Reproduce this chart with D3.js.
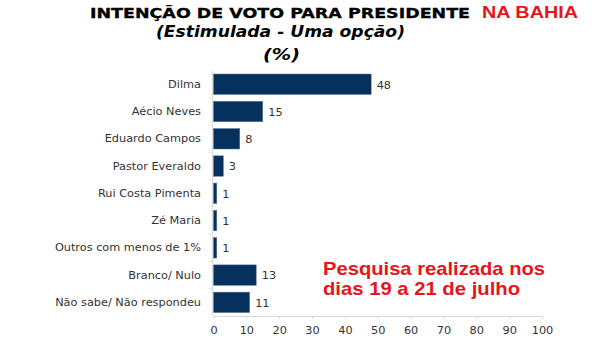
<!DOCTYPE html>
<html>
<head>
<meta charset="utf-8">
<script src="https://cdn.jsdelivr.net/npm/d3@7"></script>
<style>
  html, body { margin: 0; padding: 0; background: #fff; }
  svg { display: block; }
</style>
</head>
<body>
<svg id="chart" width="600" height="340"></svg>
<script>
// Voting intention, stimulated survey (%)
const categories = [
  "Dilma",
  "Aécio Neves",
  "Eduardo Campos",
  "Pastor Everaldo",
  "Rui Costa Pimenta",
  "Zé Maria",
  "Outros com menos de 1%",
  "Branco/ Nulo",
  "Não sabe/ Não respondeu"
];
const values = [48, 15, 8, 3, 1, 1, 1, 13, 11];
const xTicks = [0, 10, 20, 30, 40, 50, 60, 70, 80, 90, 100];

const svg = d3.select("#chart");
const plotLeft = 213.5, plotRight = 542, plotTop = 70.6, plotBottom = 316;

const x = d3.scaleLinear().domain([0, 100]).range([plotLeft, plotRight]);
const y = d3.scaleBand().domain(categories).range([plotTop, plotBottom]).paddingInner(0.25).paddingOuter(0.125);

const labelFont = "'DejaVu Sans', Verdana, sans-serif";

// Titles
svg.append("text")
  .attr("x", 90).attr("y", 17.5)
  .attr("font-family", labelFont).attr("font-weight", "bold")
  .attr("font-size", 13.5).attr("fill", "#000")
  .attr("stroke", "#000").attr("stroke-width", 0.3)
  .attr("textLength", 380).attr("lengthAdjust", "spacingAndGlyphs")
  .text("INTENÇÃO DE VOTO PARA PRESIDENTE");
svg.append("text")
  .attr("x", 482).attr("y", 18.3)
  .attr("font-family", "'Liberation Sans', Arial, sans-serif").attr("font-weight", "bold")
  .attr("font-size", 17).attr("fill", "#e8141c")
  .attr("textLength", 96).attr("lengthAdjust", "spacingAndGlyphs")
  .text("NA BAHIA");
svg.append("text")
  .attr("x", 156).attr("y", 37)
  .attr("font-family", labelFont).attr("font-weight", "bold").attr("font-style", "italic")
  .attr("font-size", 15).attr("fill", "#000")
  .attr("textLength", 249).attr("lengthAdjust", "spacingAndGlyphs")
  .text("(Estimulada - Uma opção)");
svg.append("text")
  .attr("x", 263).attr("y", 60)
  .attr("font-family", labelFont).attr("font-weight", "bold").attr("font-style", "italic")
  .attr("font-size", 15).attr("fill", "#000")
  .attr("textLength", 37).attr("lengthAdjust", "spacingAndGlyphs")
  .text("(%)");

// Axes
const xAxis = svg.append("g")
  .attr("transform", `translate(0,${plotBottom})`)
  .call(d3.axisBottom(x).tickValues(xTicks).tickSize(3).tickSizeOuter(0).tickPadding(7));
xAxis.select(".domain").attr("stroke", "#d9d9d9");
xAxis.selectAll(".tick line").attr("stroke", "#d9d9d9");
xAxis.selectAll(".tick text")
  .attr("font-family", labelFont).attr("font-size", 11.3).attr("fill", "#333");

const axisX = plotLeft - 1.5;
const yAxis = svg.append("g")
  .attr("transform", `translate(${axisX},0)`)
  .call(d3.axisLeft(y).tickSize(0).tickSizeOuter(0).tickPadding(11));
yAxis.select(".domain").attr("stroke", "#d9d9d9");
yAxis.selectAll(".tick text")
  .attr("font-family", labelFont).attr("font-size", 11.3).attr("fill", "#333");

// Short marks between category bands
const bounds = categories.slice(1).map(c => y(c) - y.step() * y.paddingInner() / 2);
svg.append("g").selectAll("line")
  .data(bounds)
  .join("line")
  .attr("x1", axisX - 3).attr("x2", axisX)
  .attr("y1", d => d).attr("y2", d => d)
  .attr("stroke", "#e3e3e3");

// Bars
svg.append("g").selectAll("rect")
  .data(values)
  .join("rect")
  .attr("x", x(0))
  .attr("y", (d, i) => y(categories[i]))
  .attr("width", d => x(d) - x(0))
  .attr("height", y.bandwidth())
  .attr("fill", "#06315e")
  .attr("stroke", "#5d7897").attr("stroke-width", 0.5);

// Value labels
svg.append("g").selectAll("text")
  .data(values)
  .join("text")
  .attr("x", d => x(d) + 5.5)
  .attr("y", (d, i) => y(categories[i]) + y.bandwidth() / 2)
  .attr("dy", "0.38em")
  .attr("font-family", labelFont).attr("font-size", 11.3).attr("fill", "#333")
  .text(d => d);

// Survey note
const note = svg.append("text")
  .attr("font-family", "'Liberation Sans', Arial, sans-serif").attr("font-weight", "bold")
  .attr("font-size", 19).attr("fill", "#e8141c");
note.append("tspan").attr("x", 323).attr("y", 275)
  .attr("textLength", 222).attr("lengthAdjust", "spacingAndGlyphs")
  .text("Pesquisa realizada nos");
note.append("tspan").attr("x", 323).attr("y", 295)
  .attr("textLength", 197).attr("lengthAdjust", "spacingAndGlyphs")
  .text("dias 19 a 21 de julho");
</script>
</body>
</html>
